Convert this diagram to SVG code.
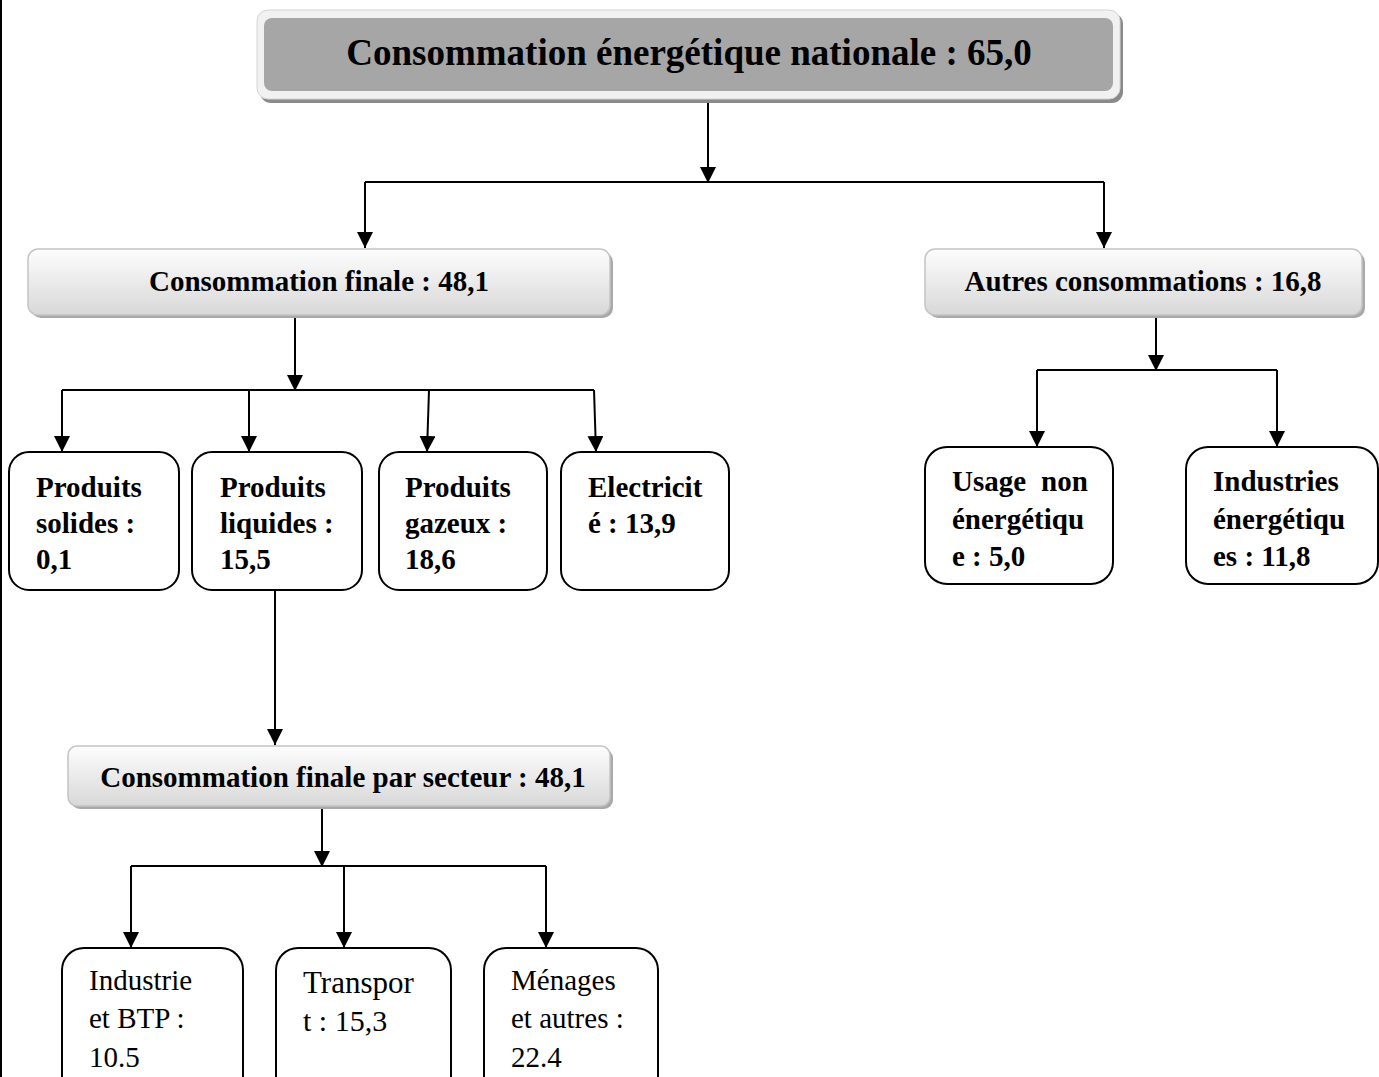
<svg xmlns="http://www.w3.org/2000/svg" width="1379" height="1077" viewBox="0 0 1379 1077">
  <style>
    .hdr { font-family: "Liberation Serif", "Times New Roman", serif; font-weight: bold; font-size: 29px; fill: #000; text-anchor: middle; }
    .title { font-family: "Liberation Serif", "Times New Roman", serif; font-weight: bold; font-size: 37px; fill: #000; text-anchor: middle; }
    .lb { font-family: "Liberation Serif", "Times New Roman", serif; font-weight: bold; font-size: 29px; fill: #000; }
    .lr { font-family: "Liberation Serif", "Times New Roman", serif; font-size: 29px; fill: #000; }
    .box { fill: #fff; stroke: #000; stroke-width: 2; }
    .bar { fill: url(#barGrad); stroke: #c4c4c4; stroke-width: 1.5; }
    .barShadow { fill: #a9a9a9; }
    .wire { fill: none; stroke: #000; stroke-width: 2; }
  </style>
  <defs>
    <linearGradient id="barGrad" x1="0" y1="0" x2="0" y2="1">
      <stop offset="0" stop-color="#fdfdfd"/>
      <stop offset="1" stop-color="#d8d8d8"/>
    </linearGradient>
    <marker id="arrow" viewBox="0 0 16 16" refX="16" refY="8" markerWidth="16" markerHeight="16" markerUnits="userSpaceOnUse" orient="auto">
      <path d="M0,0 L16,8 L0,16 Z" fill="#000"/>
    </marker>
  </defs>

  <rect width="1379" height="1077" fill="#fff"/>
  <!-- page edge -->
  <rect x="0" y="0" width="2" height="1077" fill="#000"/>

  <!-- connectors -->
  <g id="connectors">
    <path class="wire" d="M708,100 V183" marker-end="url(#arrow)"/>
    <path class="wire" d="M365,182 H1104"/>
    <path class="wire" d="M365,182 V248" marker-end="url(#arrow)"/>
    <path class="wire" d="M1104,182 V248" marker-end="url(#arrow)"/>

    <path class="wire" d="M295,318 V391" marker-end="url(#arrow)"/>
    <path class="wire" d="M62,390 H594"/>
    <path class="wire" d="M62,390 V452" marker-end="url(#arrow)"/>
    <path class="wire" d="M249,390 V452" marker-end="url(#arrow)"/>
    <path class="wire" d="M429,390 L427,452" marker-end="url(#arrow)"/>
    <path class="wire" d="M594,390 L596,452" marker-end="url(#arrow)"/>

    <path class="wire" d="M1156,318 V371" marker-end="url(#arrow)"/>
    <path class="wire" d="M1037,370 H1277"/>
    <path class="wire" d="M1037,370 V447" marker-end="url(#arrow)"/>
    <path class="wire" d="M1277,370 V447" marker-end="url(#arrow)"/>

    <path class="wire" d="M275,590 V745" marker-end="url(#arrow)"/>

    <path class="wire" d="M322,808 V867" marker-end="url(#arrow)"/>
    <path class="wire" d="M131,866 H546"/>
    <path class="wire" d="M131,866 V948" marker-end="url(#arrow)"/>
    <path class="wire" d="M344,866 V948" marker-end="url(#arrow)"/>
    <path class="wire" d="M546,866 V948" marker-end="url(#arrow)"/>
  </g>

  <!-- top-level total -->
  <g id="node-national">
    <rect x="260" y="13" width="863" height="90" rx="11" fill="#8a8a8a"/>
    <rect x="257" y="10" width="863" height="89" rx="11" fill="#f1f1f1" stroke="#d4d4d4" stroke-width="1"/>
    <rect x="264" y="18" width="849" height="73" rx="8" fill="#a6a6a6"/>
    <text class="title" x="689" y="65">Consommation énergétique nationale : 65,0</text>
  </g>

  <g id="node-finale">
    <rect class="barShadow" x="31" y="252" width="582" height="66" rx="10"/>
    <rect class="bar" x="28" y="249" width="582" height="66" rx="10"/>
    <text class="hdr" x="319" y="291">Consommation finale : 48,1</text>
  </g>

  <g id="node-autres">
    <rect class="barShadow" x="928" y="252" width="437" height="66" rx="10"/>
    <rect class="bar" x="925" y="249" width="437" height="66" rx="10"/>
    <text class="hdr" x="1143" y="291">Autres consommations : 16,8</text>
  </g>

  <g id="node-solides">
    <rect class="box" x="9" y="452" width="170" height="138" rx="20"/>
    <text class="lb" x="36" y="497">Produits</text>
    <text class="lb" x="36" y="533">solides :</text>
    <text class="lb" x="36" y="569">0,1</text>
  </g>

  <g id="node-liquides">
    <rect class="box" x="192" y="452" width="170" height="138" rx="20"/>
    <text class="lb" x="220" y="497">Produits</text>
    <text class="lb" x="220" y="533">liquides :</text>
    <text class="lb" x="220" y="569">15,5</text>
  </g>

  <g id="node-gazeux">
    <rect class="box" x="379" y="452" width="168" height="138" rx="20"/>
    <text class="lb" x="405" y="497">Produits</text>
    <text class="lb" x="405" y="533">gazeux :</text>
    <text class="lb" x="405" y="569">18,6</text>
  </g>

  <g id="node-electricite">
    <rect class="box" x="561" y="452" width="168" height="138" rx="20"/>
    <text class="lb" x="588" y="497">Electricit</text>
    <text class="lb" x="588" y="533">é : 13,9</text>
  </g>

  <g id="node-usage">
    <rect class="box" x="925" y="447" width="188" height="137" rx="22"/>
    <text class="lb" x="952" y="491">Usage</text>
    <text class="lb" x="1041" y="491">non</text>
    <text class="lb" x="952" y="529">énergétiqu</text>
    <text class="lb" x="952" y="566">e : 5,0</text>
  </g>

  <g id="node-industries-energetiques">
    <rect class="box" x="1186" y="447" width="192" height="137" rx="22"/>
    <text class="lb" x="1213" y="491">Industries</text>
    <text class="lb" x="1213" y="529">énergétiqu</text>
    <text class="lb" x="1213" y="566">es : 11,8</text>
  </g>

  <g id="node-secteur">
    <rect class="barShadow" x="71" y="749" width="542" height="60" rx="9"/>
    <rect class="bar" x="68" y="746" width="542" height="60" rx="9"/>
    <text class="hdr" x="343" y="787">Consommation finale par secteur : 48,1</text>
  </g>

  <g id="node-industrie-btp">
    <rect class="box" x="62" y="948" width="181" height="150" rx="22"/>
    <text class="lr" x="89" y="990">Industrie</text>
    <text class="lr" x="89" y="1028">et BTP :</text>
    <text class="lr" x="89" y="1067">10.5</text>
  </g>

  <g id="node-transport">
    <rect class="box" x="276" y="948" width="175" height="150" rx="22"/>
    <text class="lr" x="303" y="993" style="font-size:31px">Transpor</text>
    <text class="lr" x="303" y="1031" style="font-size:30px">t : 15,3</text>
  </g>

  <g id="node-menages">
    <rect class="box" x="484" y="948" width="174" height="150" rx="22"/>
    <text class="lr" x="511" y="990">Ménages</text>
    <text class="lr" x="511" y="1028">et autres :</text>
    <text class="lr" x="511" y="1067">22.4</text>
  </g>
</svg>
